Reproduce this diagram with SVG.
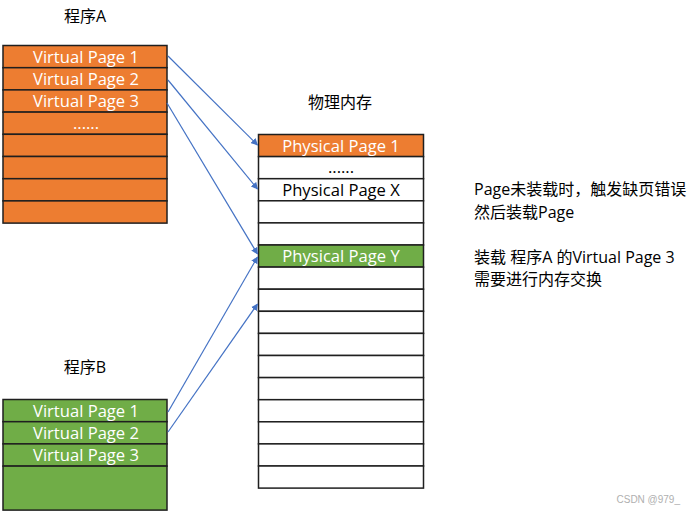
<svg xmlns="http://www.w3.org/2000/svg" width="696" height="515" viewBox="0 0 696 515">
<style>
.cell{stroke:#1f1f1f;stroke-width:1.5}
.or{fill:#ED7D31}
.gr{fill:#70AD47}
.wh{fill:#ffffff}
.tw{font-family:"Open Sans","Noto Sans CJK SC",sans-serif;font-size:16.6px;fill:#ffffff;text-anchor:middle}
.tb{font-family:"Open Sans","Noto Sans CJK SC",sans-serif;font-size:16.6px;fill:#000000;text-anchor:middle}
.lab{font-family:"Open Sans","Noto Sans CJK SC",sans-serif;font-size:16px;fill:#000000}
.conn{stroke:#4472C4;stroke-width:1.2;fill:none;marker-end:url(#ah)}
</style>
<defs>
<marker id="ah" viewBox="0 0 10 10" refX="9" refY="5" markerWidth="7" markerHeight="7" orient="auto" markerUnits="userSpaceOnUse">
<path d="M0,0 L10,5 L0,10 z" fill="#4472C4"/>
</marker>
</defs>
<rect width="696" height="515" fill="#ffffff"/>

<g id="programA">
<text class="lab" x="85" y="22" text-anchor="middle">程序A</text>
<rect class="cell or" x="3" y="45.5" width="164" height="22.2"/>
<rect class="cell or" x="3" y="67.7" width="164" height="22.2"/>
<rect class="cell or" x="3" y="89.9" width="164" height="22.2"/>
<rect class="cell or" x="3" y="112.1" width="164" height="22.2"/>
<rect class="cell or" x="3" y="134.3" width="164" height="22.2"/>
<rect class="cell or" x="3" y="156.5" width="164" height="22.2"/>
<rect class="cell or" x="3" y="178.7" width="164" height="22.2"/>
<rect class="cell or" x="3" y="200.9" width="164" height="22.2"/>
<text class="tw" x="86" y="62.5">Virtual Page 1</text>
<text class="tw" x="86" y="84.7">Virtual Page 2</text>
<text class="tw" x="86" y="106.9">Virtual Page 3</text>
<text class="tw" x="86" y="129">......</text>
</g>

<g id="programB">
<text class="lab" x="85" y="373" text-anchor="middle">程序B</text>
<rect class="cell gr" x="3" y="399.5" width="164" height="22.2"/>
<rect class="cell gr" x="3" y="421.7" width="164" height="22.2"/>
<rect class="cell gr" x="3" y="443.9" width="164" height="22.2"/>
<rect class="cell gr" x="3" y="466.1" width="164" height="44"/>
<text class="tw" x="86" y="416.5">Virtual Page 1</text>
<text class="tw" x="86" y="438.7">Virtual Page 2</text>
<text class="tw" x="86" y="460.9">Virtual Page 3</text>
</g>

<g id="physical">
<text class="lab" x="340" y="108" text-anchor="middle">物理内存</text>
<rect class="cell or" x="258.5" y="134.5" width="165" height="22.1"/>
<rect class="cell wh" x="258.5" y="156.6" width="165" height="22.1"/>
<rect class="cell wh" x="258.5" y="178.7" width="165" height="22.1"/>
<rect class="cell wh" x="258.5" y="200.8" width="165" height="22.1"/>
<rect class="cell wh" x="258.5" y="222.9" width="165" height="22.1"/>
<rect class="cell gr" x="258.5" y="245.0" width="165" height="22.1"/>
<rect class="cell wh" x="258.5" y="267.1" width="165" height="22.1"/>
<rect class="cell wh" x="258.5" y="289.2" width="165" height="22.1"/>
<rect class="cell wh" x="258.5" y="311.3" width="165" height="22.1"/>
<rect class="cell wh" x="258.5" y="333.4" width="165" height="22.1"/>
<rect class="cell wh" x="258.5" y="355.5" width="165" height="22.1"/>
<rect class="cell wh" x="258.5" y="377.6" width="165" height="22.1"/>
<rect class="cell wh" x="258.5" y="399.7" width="165" height="22.1"/>
<rect class="cell wh" x="258.5" y="421.8" width="165" height="22.1"/>
<rect class="cell wh" x="258.5" y="443.9" width="165" height="22.1"/>
<rect class="cell wh" x="258.5" y="466.0" width="165" height="22.1"/>
<text class="tw" x="341" y="151.5">Physical Page 1</text>
<text class="tb" x="341" y="173">......</text>
<text class="tb" x="341" y="195.7">Physical Page X</text>
<text class="tw" x="341" y="262">Physical Page Y</text>
</g>

<g id="notes">
<text class="lab" x="474" y="195">Page未装载时，触发缺页错误</text>
<text class="lab" x="474" y="218">然后装载Page</text>
<text class="lab" x="474" y="263">装载 程序A 的Virtual Page 3</text>
<text class="lab" x="474" y="285">需要进行内存交换</text>
</g>

<g id="connectors">
<line class="conn" x1="168" y1="56" x2="257.5" y2="145"/>
<line class="conn" x1="168" y1="80" x2="257.5" y2="189"/>
<line class="conn" x1="167" y1="103" x2="257.5" y2="254"/>
<line class="conn" x1="168" y1="412" x2="257.5" y2="257"/>
<line class="conn" x1="168" y1="432" x2="257.5" y2="304"/>
</g>

<text x="680" y="503" text-anchor="end" style="font-family:'Liberation Sans',sans-serif;font-size:10px;fill:#b0b0b0">CSDN @979_</text>
</svg>
